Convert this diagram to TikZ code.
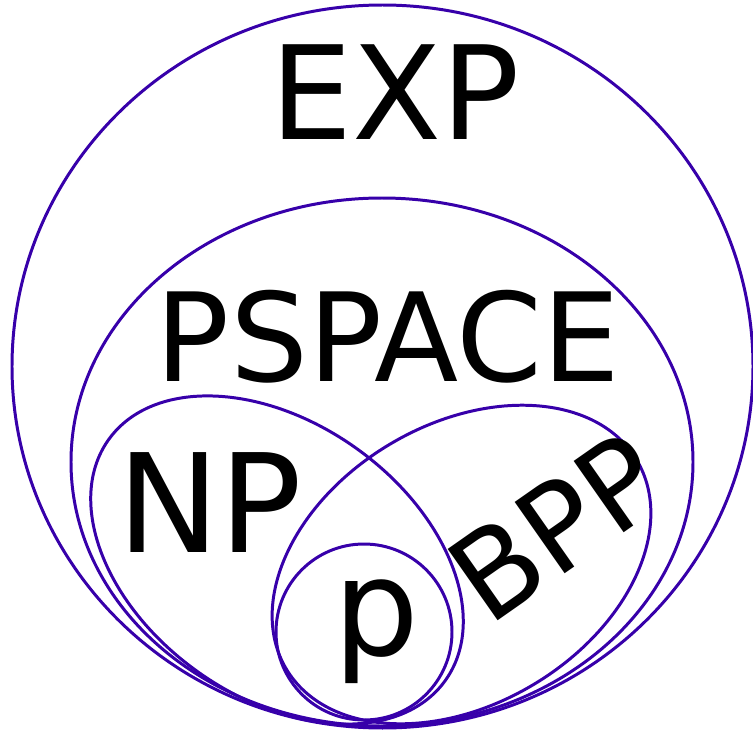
\documentclass[tikz,border=0pt]{standalone}
\usepackage{fontspec}
\setmainfont{DejaVu Sans}
\definecolor{setline}{RGB}{55,0,170}
\tikzset{
  classset/.style={draw=setline, line width=0.85pt},
  classname/.style={inner sep=0pt, text=black}
}
\begin{document}
\begin{tikzpicture}
	\useasboundingbox (0,0) rectangle (7.53,-7.33);

	% Draw the classes
	\draw[classset] (3.825,-3.665) ellipse [x radius=3.705cm, y radius=3.615cm];
	\draw[classset] (3.82,-4.62) ellipse [x radius=3.11cm, y radius=2.64cm];
	\draw[classset, rotate around={-35.6:(2.77,-5.60)}]
		(2.77,-5.60) ellipse [x radius=2.07cm, y radius=1.37cm];
	\draw[classset, rotate around={30.8:(4.615,-5.645)}]
		(4.615,-5.645) ellipse [x radius=2.04cm, y radius=1.40cm];
	\draw[classset] (3.64,-6.32) circle (0.88cm);

	% Names of the classes
	\node[classname, font=\fontsize{37pt}{42pt}\selectfont] (exp) at (3.95,-0.92) {EXP};
	\node[classname, font=\fontsize{35pt}{40pt}\selectfont] (pspace) at (3.88,-3.37) {PSPACE};
	\node[classname, font=\fontsize{39pt}{44pt}\selectfont] (np) at (2.10,-5.025) {NP};
	\node[classname, font=\fontsize{34pt}{40pt}\selectfont, rotate=35] (bpp) at (5.56,-5.27) {BPP};
	\node[classname, font=\fontsize{38.5pt}{44pt}\selectfont] (p) at (3.765,-6.315) {p};
\end{tikzpicture}
\end{document}
